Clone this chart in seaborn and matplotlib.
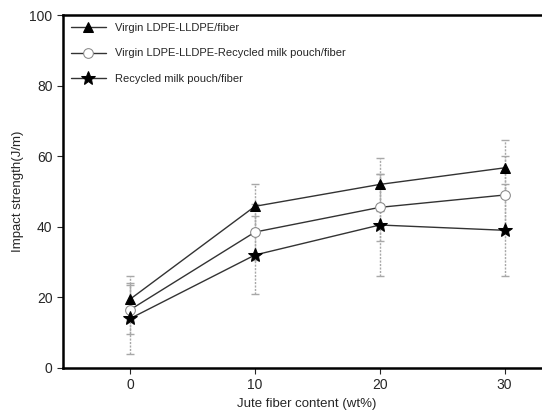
import pandas as pd
import matplotlib
matplotlib.use('Agg')
import matplotlib.pyplot as plt
import seaborn as sns

# data
fiber = [0, 10, 20, 30]
series_names = ['Virgin LDPE-LLDPE/fiber',
                'Virgin LDPE-LLDPE-Recycled milk pouch/fiber',
                'Recycled milk pouch/fiber']
virgin = [19.5, 45.8, 52.0, 56.7]
virgin_err = [6.5, 6.3, 7.5, 8.0]
blend = [16.5, 38.5, 45.5, 49.0]
blend_err = [7.0, 8.0, 9.5, 11.0]
recycled = [14.0, 32.0, 40.5, 39.0]
recycled_err = [10.0, 11.0, 14.5, 13.0]

values = [virgin, blend, recycled]
errors = [virgin_err, blend_err, recycled_err]

rows = []
for name, vals in zip(series_names, values):
    for x, v in zip(fiber, vals):
        rows.append({'fiber': x, 'impact': v, 'series': name})
df = pd.DataFrame(rows)

sns.set_style('ticks')
plt.rcParams['font.family'] = ['Liberation Sans', 'DejaVu Sans']

fig = plt.figure(figsize=(5.42, 4.19), dpi=100)
ax = fig.add_axes([0.116, 0.122, 0.90, 0.842])

# error bars first so the markers sit on top
for vals, errs in zip(values, errors):
    eb = ax.errorbar(fiber, vals, yerr=errs, fmt='none', ecolor='#a8a8a8',
                     elinewidth=1.0, capsize=3, capthick=1.0, zorder=1)
    eb[2][0].set_linestyle((0, (1.5, 1)))

markers = {series_names[0]: '^', series_names[1]: 'o', series_names[2]: '*'}
sns.lineplot(data=df, x='fiber', y='impact', style='series', markers=markers,
             dashes=False, color='#333333', linewidth=1.0, markersize=7,
             ax=ax, zorder=3)

for line in ax.get_lines():
    if line.get_marker() == 'o':
        line.set_markerfacecolor('white')
        line.set_markeredgecolor('#888888')
    elif line.get_marker() in ('^', '*'):
        line.set_markerfacecolor('black')
        line.set_markeredgecolor('black')
    if line.get_marker() == '*':
        line.set_markersize(10)

ax.set_xlim(-5.4, 33.7)
ax.set_ylim(0, 100)
ax.set_xticks(fiber)
ax.set_yticks([0, 20, 40, 60, 80, 100])
ax.set_xlabel('Jute fiber content (wt%)', fontsize=9.5)
ax.set_ylabel('Impact strength(J/m)', fontsize=9.5)
ax.tick_params(labelsize=10, direction='out', length=4, width=0.8)

for side in ['left', 'bottom', 'top']:
    ax.spines[side].set_linewidth(1.8)
    ax.spines[side].set_color('black')
ax.spines['right'].set_visible(False)

leg = ax.legend(loc='upper left', frameon=False, fontsize=8, handlelength=3.2,
                borderaxespad=0.3, labelspacing=1.4)
for h in leg.legend_handles:
    h.set_color('#333333')

fig.savefig('out.png', dpi=100)
